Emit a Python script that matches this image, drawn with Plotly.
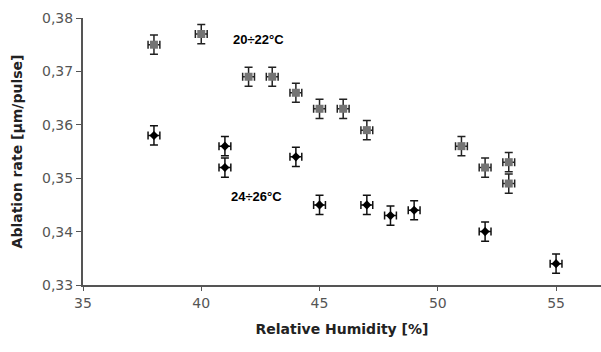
import plotly.graph_objects as go

# 20÷22°C series (gray squares)
hum_low_t = [38, 40, 42, 43, 44, 45, 46, 47, 51, 52, 53, 53]
rate_low_t = [0.375, 0.377, 0.369, 0.369, 0.366, 0.363, 0.363, 0.359, 0.356, 0.352, 0.353, 0.349]

# 24÷26°C series (black diamonds)
hum_high_t = [38, 41, 41, 44, 45, 47, 48, 49, 52, 55]
rate_high_t = [0.358, 0.356, 0.352, 0.354, 0.345, 0.345, 0.343, 0.344, 0.340, 0.334]

x_err = 0.25
y_err = 0.0018

x_ticks = [35, 40, 45, 50, 55]
y_ticks = [0.33, 0.34, 0.35, 0.36, 0.37, 0.38]
y_tick_labels = ["0,33", "0,34", "0,35", "0,36", "0,37", "0,38"]

fig = go.Figure()
fig.add_trace(go.Scatter(
    x=hum_low_t, y=rate_low_t, mode="markers",
    marker=dict(symbol="square", size=8, color="#747474"),
    error_x=dict(type="constant", value=x_err, color="#222", thickness=1.5, width=4),
    error_y=dict(type="constant", value=y_err, color="#222", thickness=1.5, width=4),
    showlegend=False,
))
fig.add_trace(go.Scatter(
    x=hum_high_t, y=rate_high_t, mode="markers",
    marker=dict(symbol="diamond", size=7, color="#000000"),
    error_x=dict(type="constant", value=x_err, color="#111", thickness=1.5, width=4),
    error_y=dict(type="constant", value=y_err, color="#111", thickness=1.5, width=4),
    showlegend=False,
))

fig.add_annotation(x=42.4, y=0.3759, xref="x", yref="y", text="<b>20÷22°C</b>",
                   showarrow=False, font=dict(family="Liberation Sans, Arial", size=13, color="#000"))
fig.add_annotation(x=42.35, y=0.3465, xref="x", yref="y", text="<b>24÷26°C</b>",
                   showarrow=False, font=dict(family="Liberation Sans, Arial", size=13, color="#000"))

fig.update_layout(
    width=601, height=352,
    margin=dict(l=83, r=0, t=18, b=67),
    paper_bgcolor="white", plot_bgcolor="white",
    font=dict(family="DejaVu Sans", size=14, color="#333"),
)
fig.update_xaxes(
    range=[35, 56.9], tickvals=x_ticks, ticks="outside", ticklen=4, tickcolor="#555",
    showline=True, linecolor="#555", linewidth=2, showgrid=False, zeroline=False,
    tickfont=dict(family="DejaVu Sans", size=14, color="#555"),
    title=dict(text="<b>Relative Humidity [%]</b>", font=dict(family="DejaVu Sans", size=14, color="#222"), standoff=14),
)
fig.update_yaxes(
    range=[0.33, 0.38], tickvals=y_ticks, ticktext=y_tick_labels, ticks="outside", ticklen=5, tickcolor="#555",
    showline=True, linecolor="#555", linewidth=2, showgrid=False, zeroline=False,
    tickfont=dict(family="DejaVu Sans", size=14, color="#555"),
    title=dict(text="<b>Ablation rate [µm/pulse]</b>", font=dict(family="DejaVu Sans", size=14, color="#222"), standoff=16),
)

fig.write_html("out.html")
